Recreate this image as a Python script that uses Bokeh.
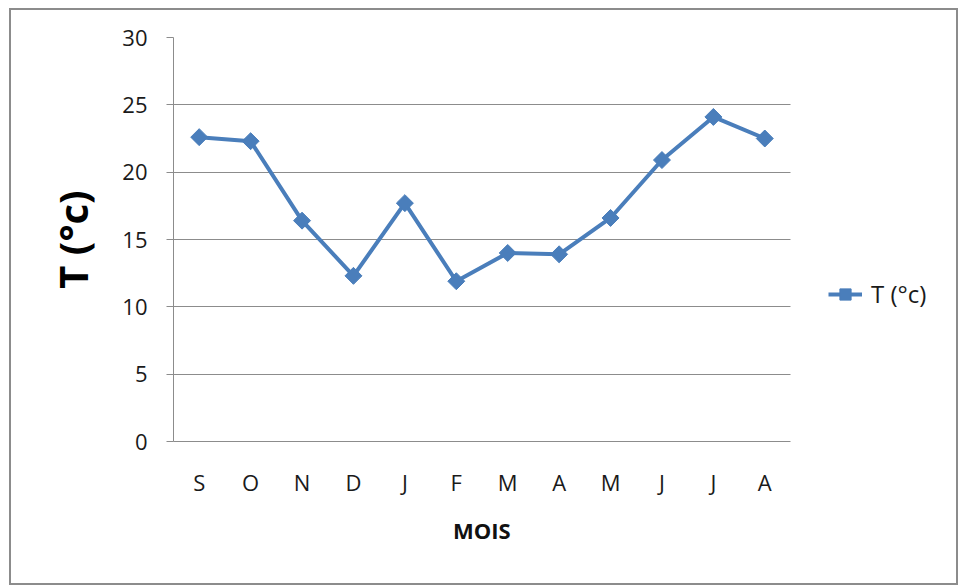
import math
from bokeh.plotting import figure
from bokeh.models import Legend, LegendItem, FixedTicker, Range1d, Title
from bokeh.embed import file_html
from bokeh.resources import INLINE

months = ["S", "O", "N", "D", "J", "F", "M", "A", "M", "J", "J", "A"]
temps = [22.6, 22.3, 16.4, 12.3, 17.7, 11.9, 14.0, 13.9, 16.6, 20.9, 24.1, 22.5]
y_ticks = [0, 5, 10, 15, 20, 25, 30]
series_name = "T (°c)"
x_title = "MOIS"

x_pos = list(range(len(months)))

FONT = "Open Sans"
BLUE = "#4a7ebb"
GRID = "#8c8c8c"

W, H = 949, 577
LEFT, TOP, BOTTOM = 162, 27, 146
PLOT_PX = 617          # pixel width occupied by the 12 month slots
frame_w = W - LEFT
unit = PLOT_PX / len(months)
x_lo = -0.5
x_hi = x_lo + frame_w / unit
data_bounds = (-0.5, len(months) - 0.5)

p = figure(
    width=W, height=H,
    x_range=Range1d(x_lo, x_hi),
    y_range=Range1d(0, 30),
    output_backend="svg", toolbar_location=None,
    min_border_left=LEFT, min_border_right=0,
    min_border_top=TOP, min_border_bottom=BOTTOM,
)
p.margin = (8, 0, 0, 9)
p.styles = {"border": "2px solid #8c8c8c", "box-sizing": "border-box"}
p.outline_line_color = None
p.background_fill_color = "white"
p.border_fill_color = "white"

r_line = p.line(x_pos, temps, line_color=BLUE, line_width=4)
r_pts = p.scatter(x_pos, temps, marker="square", angle=math.pi / 4, size=12,
                  fill_color=BLUE, line_color=BLUE)

# axes
p.xaxis.ticker = FixedTicker(ticks=x_pos)
p.xaxis.bounds = data_bounds
p.xaxis.major_label_overrides = {i: m for i, m in zip(x_pos, months)}
p.xaxis.major_tick_line_color = None
p.xaxis.minor_tick_line_color = None
p.xaxis.axis_line_color = GRID
p.xaxis.major_label_standoff = 19
p.xaxis.major_label_text_font = FONT
p.xaxis.major_label_text_font_size = "22px"
p.xaxis.major_label_text_color = "#1a1a1a"

# x-axis title, centred under the month slots
p.add_layout(Title(text=x_title, align="left", offset=PLOT_PX / 2 - 29,
                   text_font=FONT, text_font_style="bold", text_font_size="22px",
                   text_color="#111111", standoff=26), "below")

p.yaxis.ticker = FixedTicker(ticks=y_ticks)
p.yaxis.axis_line_color = GRID
p.yaxis.major_tick_line_color = GRID
p.yaxis.major_tick_in = 0
p.yaxis.major_tick_out = 7
p.yaxis.minor_tick_line_color = None
p.yaxis.major_label_standoff = 19
p.yaxis.major_label_text_font = FONT
p.yaxis.major_label_text_font_size = "22px"
p.yaxis.major_label_text_color = "#1a1a1a"
p.yaxis.axis_label = series_name
p.yaxis.axis_label_text_font = FONT
p.yaxis.axis_label_text_font_style = "bold"
p.yaxis.axis_label_text_font_size = "40px"
p.yaxis.axis_label_text_color = "#000000"
p.yaxis.axis_label_standoff = 19

p.xgrid.grid_line_color = None
p.ygrid.grid_line_color = GRID
p.ygrid.grid_line_width = 1
p.ygrid.cross_bounds = data_bounds

legend = Legend(
    items=[LegendItem(label=series_name, renderers=[r_line, r_pts])],
    location=(655, 131),
    border_line_color=None, background_fill_alpha=0,
    padding=0, margin=0, spacing=0,
    glyph_width=34, glyph_height=28, label_standoff=9,
    label_text_font=FONT, label_text_font_size="24px", label_text_color="#1a1a1a",
)
p.add_layout(legend, "center")

open("out.html", "w").write(file_html(p, INLINE))
